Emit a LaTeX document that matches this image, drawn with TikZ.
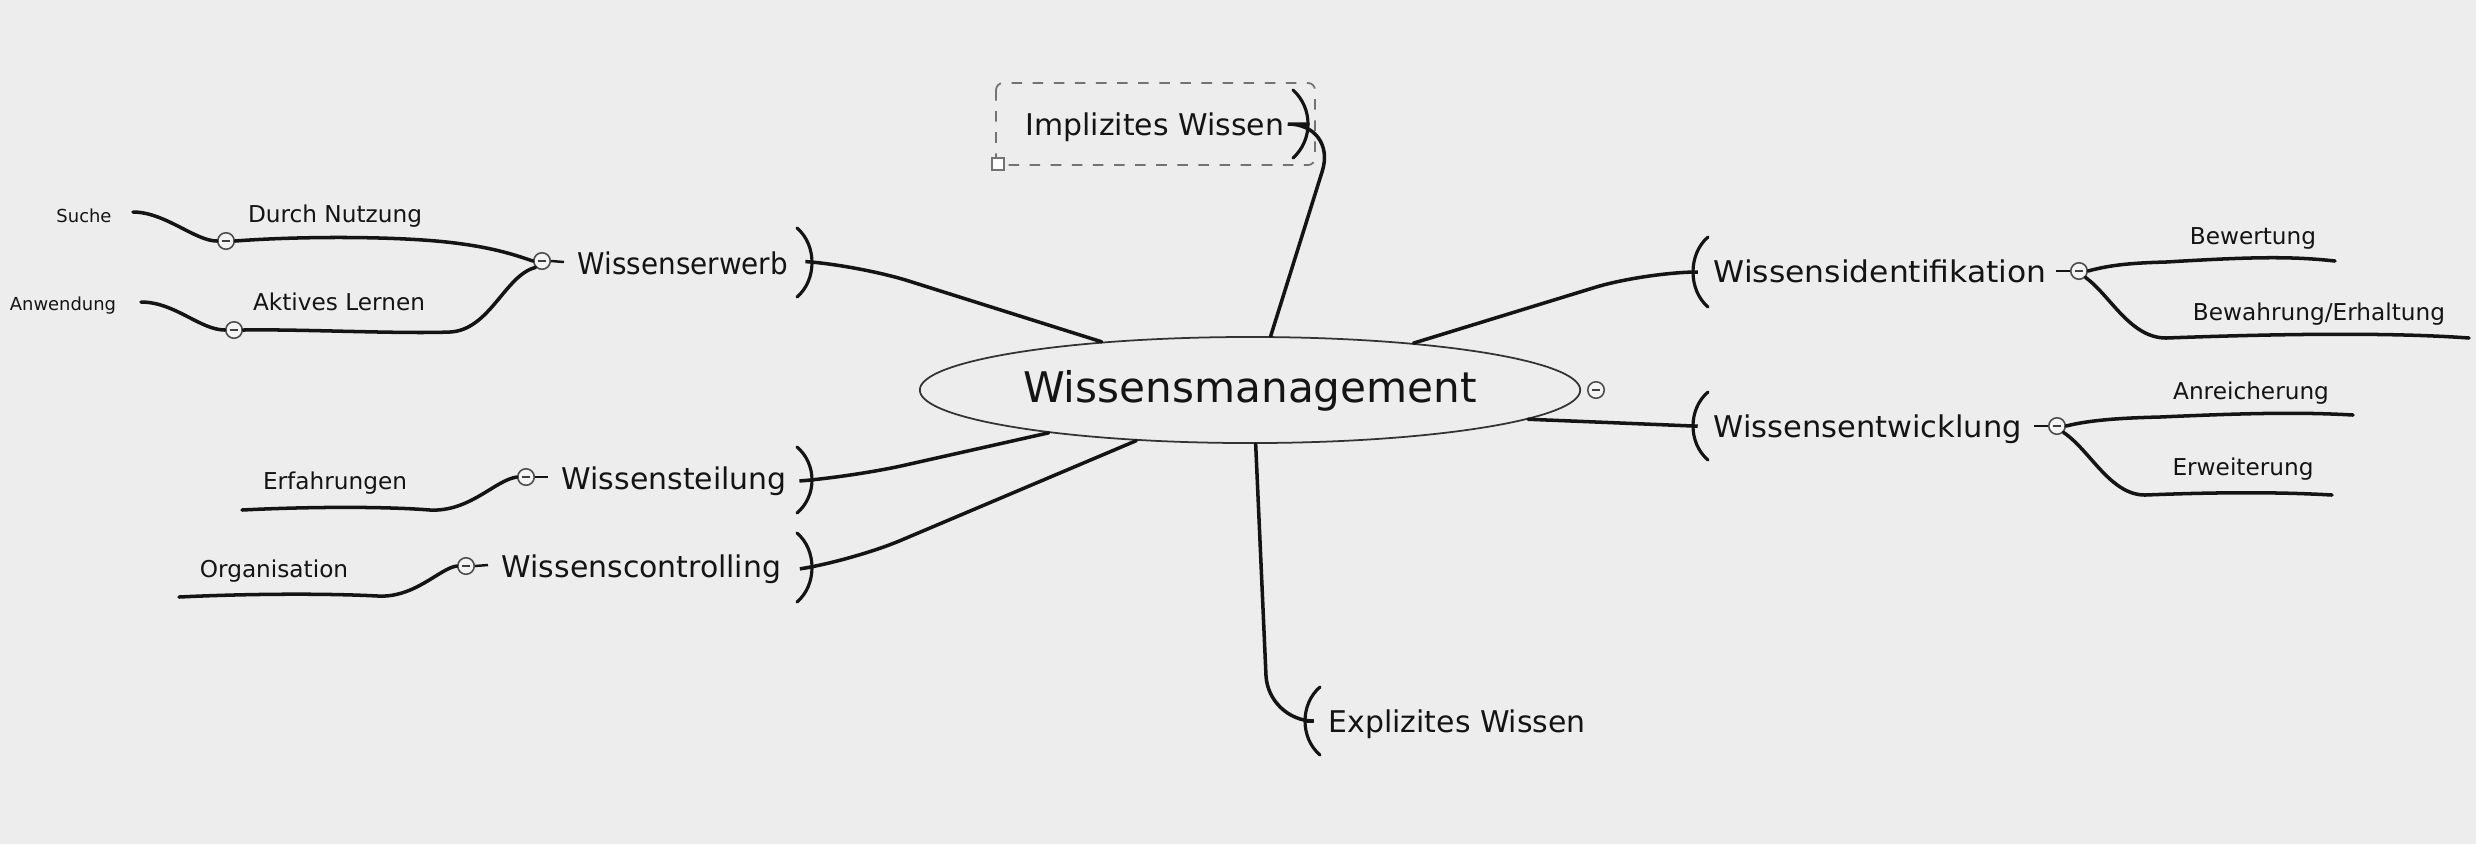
\documentclass[tikz,border=0pt]{standalone}
\usepackage{fontspec}
\setmainfont{DejaVu Sans}
\usetikzlibrary{shapes.geometric}
\definecolor{bg}{RGB}{237,237,237}
\definecolor{ink}{RGB}{20,20,20}
\begin{document}
\begin{tikzpicture}[x=0.01cm,y=-0.01cm,
  topic/.style={inner sep=0pt, anchor=west, text height=0.72em, text depth=0pt, text=ink, font=\fontsize{8.5}{10}\selectfont},
  subtopic/.style={inner sep=0pt, text height=0.72em, text depth=0pt, text=ink, font=\fontsize{6.6}{8}\selectfont},
  leaf/.style={inner sep=0pt, text height=0.72em, text depth=0pt, text=ink, font=\fontsize{5.1}{6}\selectfont},
  conn/.style={line width=1pt, line cap=round, draw=ink},
  brk/.style={line width=0.9pt, line cap=round, draw=ink},
  dashline/.style={line width=0.7pt, draw=ink},
  toggle/.style={circle, draw=black!70, line width=0.45pt, fill=bg!60!white, minimum size=0.165cm, inner sep=0pt,
    path picture={\draw[black!75, line width=0.5pt] ([xshift=-0.04cm]path picture bounding box.center) -- ([xshift=0.04cm]path picture bounding box.center);}}]
\fill[bg] (0,0) rectangle (2476,844);
\useasboundingbox (0,0) rectangle (2476,844);

% central
\node[ellipse, draw=black!80, line width=0.5pt, minimum width=6.6cm, minimum height=1.06cm, inner sep=0pt,
  text height=0.72em, text depth=0pt, text=ink, font=\fontsize{12}{14}\selectfont] (wm) at (1250,390) {Wissensmanagement};
\node[toggle] (tWM) at (1596,390) {};

% left main topics
\node[topic] (erw) at (577,262) {\scalebox{0.93}[1]{Wissenserwerb}};
\node[topic] (teil) at (561,477) {Wissensteilung};
\node[topic] (con) at (501,565) {Wissenscontrolling};

\draw[brk] (797,228) .. controls (817,245) and (817,280) .. (797,297);
\coordinate (erwB) at (812,262);
\draw[brk] (797,447) .. controls (817,464) and (817,496) .. (797,513);
\coordinate (teilB) at (812,480);
\draw[brk] (797,533) .. controls (817,550) and (817,585) .. (797,602);
\coordinate (conB) at (812,567);

\draw[conn, rounded corners=15] (erwB) -- (858,265) -- (wm.162.5);
\draw[conn, rounded corners=15] (teilB) -- (852,477) -- (wm.192.8);
\draw[conn, rounded corners=15] (conB) -- (852,561) -- (wm.204.6);

% right main topics
\node[topic] (ide) at (1713,270) {\scalebox{1.05}[1]{Wissensidentifikation}};
\node[topic] (ent) at (1713,425) {\scalebox{1.02}[1]{Wissensentwicklung}};
\draw[brk] (1708,237) .. controls (1688,254) and (1688,290) .. (1708,307);
\coordinate (ideB) at (1693,272);
\draw[brk] (1708,392) .. controls (1688,409) and (1688,443) .. (1708,460);
\coordinate (entB) at (1693,426);
\draw[conn, rounded corners=15] (ideB) -- (1645,272) -- (wm.16.3);
\draw[conn, rounded corners=15] (entB) -- (1645,424) -- (wm.354.8);

% Implizites Wissen
\draw[black!55, dashed, line width=0.5pt, rounded corners=2] (996,83) rectangle (1315,165);
\draw[black!55, fill=white, line width=0.5pt] (992,158) rectangle (1004,170);
\node[topic] (imp) at (1025,123) {Implizites Wissen};
\draw[brk] (1293,90) .. controls (1313,108) and (1313,140) .. (1293,158);
\coordinate (impB) at (1308,124);
\draw[conn, rounded corners=14] (impB) -- (1337,124) -- (wm.69);

% Explizites Wissen
\node[topic] (exp) at (1328,720) {Explizites Wissen};
\draw[brk] (1320,687) .. controls (1300,704) and (1300,738) .. (1320,755);
\coordinate (expB) at (1305,721);
\draw[conn, rounded corners=13] (wm.276) -- (1268,721) -- (expB);

% left subtopics
\node[subtopic] (dn) at (335,210) {Durch Nutzung};
\node[subtopic] (al) at (339,298) {Aktives Lernen};
\node[subtopic] (erf) at (335,477) {Erfahrungen};
\node[subtopic] (org) at (274,565) {Organisation};
\node[leaf] (su) at (84,210) {Suche};
\node[leaf] (anw) at (63,298) {Anwendung};

\node[toggle] (tErw) at (542,261) {};
\node[toggle] (tTeil) at (526,477) {};
\node[toggle] (tCon) at (466,566) {};
\node[toggle] (tDN) at (226,241) {};
\node[toggle] (tAL) at (234,330) {};

\draw[dashline] (tErw.east) -- ([xshift=-0.13cm]erw.west);
\draw[dashline] (tTeil.east) -- ([xshift=-0.13cm]teil.west);
\draw[dashline] (tCon.east) -- ([xshift=-0.13cm]con.west);

\draw[conn] (tDN.east) .. controls (300,236) and (400,236) .. (455,243) .. controls (495,248) and (515,255) .. (tErw.west);
\draw[conn] (tAL.east) .. controls (300,329) and (400,334) .. (450,332) .. controls (490,330) and (505,275) .. (tErw.south west);
\coordinate (suE) at (133,212);
\draw[conn] (suE) .. controls (165,212) and (195,241) .. (tDN.west);
\coordinate (anwE) at (141,302);
\draw[conn] (anwE) .. controls (175,302) and (200,330) .. (tAL.west);
\coordinate (erfE) at (242,510);
\draw[conn] (erfE) .. controls (300,507) and (380,506) .. (430,510) .. controls (470,512) and (495,480) .. (tTeil.west);
\coordinate (orgE) at (179,597);
\draw[conn] (orgE) .. controls (240,594) and (320,593) .. (378,596) .. controls (415,598) and (440,568) .. (tCon.west);

% right subtopics
\node[subtopic] (bew) at (2253,232) {Bewertung};
\node[subtopic] (bwe) at (2319,308) {Bewahrung/Erhaltung};
\node[subtopic] (anr) at (2251,387) {Anreicherung};
\node[subtopic] (erwt) at (2243,463) {Erweiterung};

\node[toggle] (tIde) at (2079,271) {};
\node[toggle] (tEnt) at (2057,426) {};
\draw[dashline] (tIde.west) -- ++(-14,0);
\draw[dashline] (tEnt.west) -- ++(-14,0);

\coordinate (bewE) at (2335,261);
\coordinate (bweE) at (2469,338);
\coordinate (anrE) at (2353,415);
\coordinate (erwtE) at (2332,495);
\draw[conn] (tIde.east) .. controls (2110,265) and (2130,263) .. (2166,262) .. controls (2250,257) and (2290,256) .. (bewE);
\draw[conn] (tIde.south east) .. controls (2110,295) and (2130,338) .. (2166,338) .. controls (2300,333) and (2400,333) .. (bweE);
\draw[conn] (tEnt.east) .. controls (2090,420) and (2120,418) .. (2160,417) .. controls (2250,413) and (2300,412) .. (anrE);
\draw[conn] (tEnt.south east) .. controls (2090,450) and (2110,495) .. (2145,495) .. controls (2220,492) and (2280,492) .. (erwtE);
\end{tikzpicture}
\end{document}
